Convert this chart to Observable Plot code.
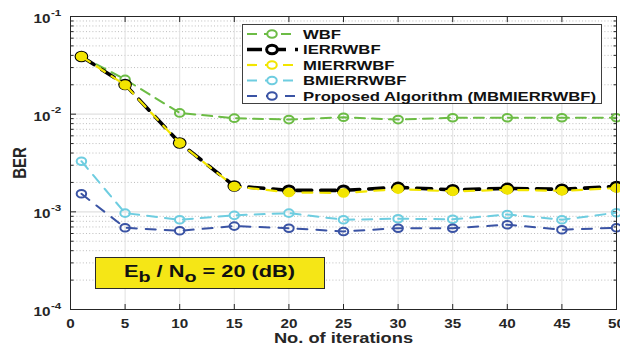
<!DOCTYPE html>
<html><head><meta charset="utf-8">
<script src="https://cdn.jsdelivr.net/npm/d3@7"></script>
<script src="https://cdn.jsdelivr.net/npm/@observablehq/plot@0.6"></script>
<style>
body{margin:0;background:#fff;}
svg{display:block;font-family:"Liberation Sans",Arial,Helvetica,sans-serif;}
</style>
</head><body><div id="chart"></div>
<script>
// ---- data ----
const iterations = [1, 5, 10, 15, 20, 25, 30, 35, 40, 45, 50];
const wbf       = [0.039, 0.0227, 0.0103, 0.0091, 0.0088, 0.0093, 0.0088, 0.0092, 0.0092, 0.0092, 0.0092];
const ierrwbf   = [0.039, 0.0201, 0.00507, 0.00184, 0.00166, 0.00166, 0.00178, 0.00168, 0.00174, 0.0017, 0.00182];
const mierrwbf  = [0.039, 0.0199, 0.00505, 0.00182, 0.00158, 0.00156, 0.00171, 0.00162, 0.00168, 0.00164, 0.00175];
const bmierrwbf = [0.0033, 0.00097, 0.00083, 0.00092, 0.00097, 0.00083, 0.00085, 0.00084, 0.00094, 0.00083, 0.00098];
const proposed  = [0.00153, 0.000687, 0.00064, 0.000714, 0.00068, 0.00063, 0.00068, 0.00068, 0.000738, 0.000656, 0.000687];
const seriesNames = ["WBF", "IERRWBF", "MIERRWBF", "BMIERRWBF", "Proposed Algorithm (MBMIERRWBF)"];
const seriesValues = [wbf, ierrwbf, mierrwbf, bmierrwbf, proposed];
const xTicks = [0, 5, 10, 15, 20, 25, 30, 35, 40, 45, 50];
const yDecades = [1e-4, 1e-3, 1e-2, 1e-1];
const yExponents = ["-4", "-3", "-2", "-1"];
const yMinorMultipliers = [2, 3, 4, 5, 6, 7, 8, 9];
const xLabel = "No. of iterations";
const yLabel = "BER";
const annotationParts = ["E", "b", " / N", "o", " = 20 (dB)"];

// ---- styles ----
const styles = [
  {color: "#6cbc45", width: 2, dash: "10,7", r: 3.8, sw: 2, fill: "none"},
  {color: "#000000", width: 3.6, dash: "15,9", r: 4.3, sw: 3, fill: "none"},
  {color: "#f2e500", width: 2.2, dash: "10,8", r: 3.8, sw: 2, fill: "#f2e500"},
  {color: "#6ecde0", width: 2, dash: "10,8", r: 3.8, sw: 2, fill: "none"},
  {color: "#3a53a4", width: 2, dash: "10,9", r: 3.8, sw: 2, fill: "none"}
];
const SX = 1.22; // horizontal stretch of the original picture

const rows = seriesNames.map((name, s) => iterations.map((x, i) => ({series: name, s, x, y: seriesValues[s][i]})));
const yMinor = yDecades.slice(0, 3).flatMap(d => yMinorMultipliers.map(m => d * m));

const ellipse = {
  draw(ctx, size) {
    const r = Math.sqrt(size / Math.PI), rx = r * 1.25, ry = r, k = 0.5523;
    ctx.moveTo(rx, 0);
    ctx.bezierCurveTo(rx, ry * k, rx * k, ry, 0, ry);
    ctx.bezierCurveTo(-rx * k, ry, -rx, ry * k, -rx, 0);
    ctx.bezierCurveTo(-rx, -ry * k, -rx * k, -ry, 0, -ry);
    ctx.bezierCurveTo(rx * k, -ry, rx, -ry * k, rx, 0);
    ctx.closePath();
  }
};

const seriesMarks = rows.flatMap((data, s) => [
  Plot.line(data, {x: "x", y: "y", stroke: styles[s].color, strokeWidth: styles[s].width, strokeDasharray: styles[s].dash}),
  Plot.dot(data, {x: "x", y: "y", symbol: ellipse, r: styles[s].r, stroke: styles[s].color, strokeWidth: styles[s].sw, fill: styles[s].fill})
]);

const tickStyle = {stroke: "#262626", tickFormat: () => "", label: null};

const chart = Plot.plot({
  width: 620, height: 346,
  marginLeft: 70, marginRight: 4, marginTop: 16, marginBottom: 37,
  style: {fontFamily: '"Liberation Sans", Arial, sans-serif', background: "#fff"},
  x: {domain: [0, 50], axis: null},
  y: {type: "log", domain: [1e-4, 1e-1], axis: null},
  marks: [
    Plot.ruleY(yMinor, {y: d => d, stroke: "#bdbdbd", strokeDasharray: "1,2.2"}),
    Plot.ruleX(xTicks, {x: d => d, stroke: "#e0e0e0", strokeWidth: 1}),
    Plot.ruleY(yDecades, {y: d => d, stroke: "#e0e0e0", strokeWidth: 1.2}),
    Plot.axisX(xTicks, {anchor: "bottom", tickSize: -5, ...tickStyle}),
    Plot.axisX(xTicks, {anchor: "top", tickSize: -5, ...tickStyle}),
    Plot.axisY(yDecades, {anchor: "left", tickSize: -6, ...tickStyle}),
    Plot.axisY(yDecades, {anchor: "right", tickSize: -6, ...tickStyle}),
    Plot.axisY(yMinor, {anchor: "left", tickSize: -3.5, ...tickStyle}),
    Plot.axisY(yMinor, {anchor: "right", tickSize: -3.5, ...tickStyle}),
    ...seriesMarks,
    Plot.frame({stroke: "#262626", strokeWidth: 1}),
    Plot.text(xTicks, {x: d => d, frameAnchor: "bottom", lineAnchor: "middle", dy: 14, text: d => String(d), fontWeight: "bold", fontSize: 12.5, fill: "#262626"}),
    Plot.text(yDecades, {y: d => d, frameAnchor: "left", lineAnchor: "middle", dx: -20, dy: 2.5, textAnchor: "end", text: () => "10", fontWeight: "bold", fontSize: 12.5, fill: "#262626"}),
    Plot.text(yDecades, {y: d => d, frameAnchor: "left", lineAnchor: "middle", dx: -19.5, dy: -4, textAnchor: "start", text: (d, i) => yExponents[i], fontWeight: "bold", fontSize: 9.5, fill: "#262626"}),
    Plot.text([xLabel], {frameAnchor: "bottom", lineAnchor: "middle", textAnchor: "middle", dy: 29, text: d => d, fontWeight: "bold", fontSize: 15, fill: "#262626"}),
    Plot.text([yLabel], {frameAnchor: "left", lineAnchor: "middle", textAnchor: "middle", dx: -50, rotate: -90, text: d => d, fontWeight: "bold", fontSize: 15, fill: "#262626"})
  ]
});

// horizontal stretch for text (the original image was widened)
d3.select(chart).selectAll("text").each(function() {
  const t = this.getAttribute("transform") || "";
  if (t.includes("rotate")) this.setAttribute("transform", t + " scale(1," + SX + ")");
  else if (t) this.setAttribute("transform", t + " scale(" + SX + ",1)");
  else {
    const x = +this.getAttribute("x") || 0, y = +this.getAttribute("y") || 0;
    this.setAttribute("x", 0); this.setAttribute("y", 0);
    this.setAttribute("transform", `translate(${x},${y}) scale(${SX},1)`);
  }
});

const svg = d3.select(chart);

// legend
const lg = svg.append("g").attr("class", "legend");
lg.append("rect").attr("x", 242.5).attr("y", 24.5).attr("width", 359).attr("height", 79)
  .attr("fill", "#fff").attr("stroke", "#404040").attr("stroke-width", 1);
const legendY = [34, 49.5, 65, 80.5, 96];
seriesNames.forEach((name, s) => {
  const st = styles[s], y = legendY[s];
  lg.append("line").attr("x1", 247).attr("x2", 298).attr("y1", y).attr("y2", y)
    .attr("stroke", st.color).attr("stroke-width", st.width).attr("stroke-dasharray", st.dash);
  const r = st.r, rx = r * 1.25;
  lg.append("ellipse").attr("cx", 272).attr("cy", y).attr("rx", rx).attr("ry", r)
    .attr("fill", "#fff").attr("stroke", st.color).attr("stroke-width", st.sw);
  lg.append("text").attr("transform", `translate(303,${y + 4.7}) scale(${SX},1)`)
    .attr("text-anchor", "start")
    .attr("font-size", 13.7).attr("font-weight", "bold").attr("fill", "#111").text(name);
});

// annotation box
const ag = svg.append("g").attr("class", "annotation");
ag.append("rect").attr("x", 95.5).attr("y", 257.5).attr("width", 229).attr("height", 31)
  .attr("fill", "#f5e616").attr("stroke", "#2a2a2a").attr("stroke-width", 1);
const at = ag.append("text").attr("transform", `translate(209.5,276.5) scale(1.32,1)`)
  .attr("text-anchor", "middle").attr("font-size", 16.5).attr("font-weight", "bold").attr("fill", "#111");
annotationParts.forEach((p, i) => {
  const sub = i === 1 || i === 3;
  at.append("tspan").attr("dy", sub ? 5 : (i > 0 ? -5 : 0)).attr("font-size", sub ? 15 : 16.5).text(p);
});

document.getElementById("chart").appendChild(chart);
</script>
</body></html>
